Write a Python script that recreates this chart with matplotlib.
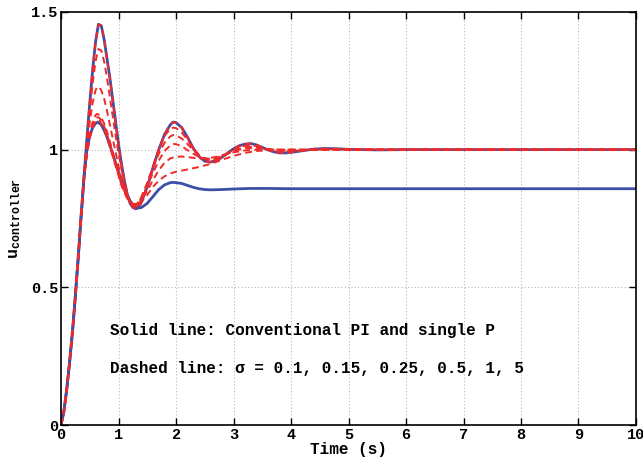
import matplotlib
matplotlib.use('Agg')
import matplotlib.pyplot as plt

plt.rcParams['font.family'] = ['Liberation Mono', 'DejaVu Sans Mono']
plt.rcParams['font.weight'] = 'bold'
plt.rcParams['mathtext.fontset'] = 'custom'
plt.rcParams['mathtext.rm'] = 'Liberation Mono:bold'
plt.rcParams['mathtext.it'] = 'Liberation Mono:bold'

# common rise (all curves)
t_rise = [0, 0.05, 0.1, 0.15, 0.2, 0.25, 0.3, 0.35, 0.4]
u_rise = [0, 0.05, 0.13, 0.23, 0.34, 0.47, 0.61, 0.76, 0.90]

# solid: conventional PI (upper)
t_pi = [0.45, 0.5, 0.55, 0.6, 0.65, 0.7, 0.75, 0.8, 0.85, 0.9, 0.95, 1.0, 1.05, 1.1, 1.15,
        1.2, 1.25, 1.3, 1.35, 1.4, 1.5, 1.6, 1.7, 1.8, 1.9, 1.95, 2.0, 2.1, 2.2, 2.3, 2.4,
        2.5, 2.6, 2.7, 2.8, 2.9, 3.0, 3.1, 3.2, 3.3, 3.4, 3.5, 3.6, 3.7, 3.8, 3.9, 4.0,
        4.2, 4.4, 4.6, 4.8, 5.0, 5.5, 6, 7, 8, 9, 10]
u_pi = [1.04, 1.17, 1.29, 1.39, 1.455, 1.45, 1.40, 1.33, 1.26, 1.18, 1.10, 1.02, 0.95, 0.89, 0.84,
        0.805, 0.79, 0.785, 0.79, 0.81, 0.865, 0.935, 1.0, 1.055, 1.09, 1.10, 1.098, 1.08, 1.045, 1.005, 0.975,
        0.958, 0.955, 0.96, 0.972, 0.988, 1.003, 1.014, 1.02, 1.022, 1.017, 1.008, 0.999, 0.992, 0.988, 0.988, 0.99,
        0.996, 1.002, 1.004, 1.003, 1.001, 0.999, 1.0, 1.0, 1.0, 1.0, 1.0]

# solid: single P (lower)
t_p = [0.45, 0.5, 0.55, 0.6, 0.64, 0.7, 0.75, 0.8, 0.85, 0.9, 0.95, 1.0, 1.05, 1.1, 1.15, 1.2,
       1.25, 1.3, 1.35, 1.4, 1.5, 1.6, 1.7, 1.8, 1.9, 1.95, 2.0, 2.1, 2.2, 2.3, 2.4, 2.5, 2.6,
       2.8, 3.0, 3.3, 3.6, 4, 5, 10]
u_p = [1.0, 1.05, 1.08, 1.095, 1.10, 1.09, 1.07, 1.045, 1.015, 0.985, 0.95, 0.92, 0.89, 0.86, 0.835, 0.815,
       0.80, 0.79, 0.788, 0.79, 0.805, 0.83, 0.855, 0.872, 0.88, 0.881, 0.88, 0.877, 0.87, 0.863, 0.858, 0.855, 0.854,
       0.855, 0.857, 0.859, 0.859, 0.858, 0.858, 0.858]

# dashed: sigma = 0.1, 0.15, 0.25, 0.5, 1, 5
t_s1 = t_pi
u_s1 = u_pi

t_s2 = [0.45, 0.5, 0.55, 0.6, 0.65, 0.7, 0.75, 0.8, 0.85, 0.9, 0.95, 1.0, 1.05, 1.1, 1.15, 1.2,
        1.25, 1.3, 1.35, 1.4, 1.5, 1.6, 1.7, 1.8, 1.9, 1.95, 2.0, 2.1, 2.2, 2.3, 2.4, 2.5, 2.6,
        2.7, 2.8, 2.9, 3.0, 3.1, 3.2, 3.3, 3.4, 3.5, 3.6, 3.7, 3.8, 4.0, 4.4, 4.8, 5.5, 10]
u_s2 = [1.03, 1.14, 1.24, 1.32, 1.365, 1.36, 1.32, 1.26, 1.19, 1.12, 1.05, 0.985, 0.93, 0.88, 0.84, 0.81,
        0.795, 0.792, 0.80, 0.82, 0.875, 0.94, 1.0, 1.05, 1.075, 1.08, 1.078, 1.062, 1.035, 1.005, 0.98, 0.965, 0.96,
        0.963, 0.973, 0.986, 0.998, 1.008, 1.014, 1.016, 1.013, 1.006, 1.0, 0.995, 0.993, 0.994, 1.0, 1.002, 1.0, 1.0]

t_s3 = [0.45, 0.5, 0.55, 0.6, 0.63, 0.67, 0.7, 0.75, 0.8, 0.85, 0.9, 0.95, 1.0, 1.05, 1.1, 1.15,
        1.2, 1.25, 1.3, 1.35, 1.4, 1.5, 1.6, 1.7, 1.8, 1.9, 1.95, 2.0, 2.1, 2.2, 2.3, 2.4, 2.5,
        2.6, 2.7, 2.8, 2.9, 3.0, 3.1, 3.2, 3.3, 3.4, 3.5, 3.7, 3.9, 4.2, 4.6, 5.5, 10]
u_s3 = [1.01, 1.1, 1.17, 1.215, 1.228, 1.225, 1.215, 1.185, 1.14, 1.09, 1.04, 0.99, 0.94, 0.895, 0.86, 0.83,
        0.81, 0.80, 0.80, 0.81, 0.83, 0.88, 0.935, 0.985, 1.025, 1.048, 1.053, 1.052, 1.04, 1.02, 0.998, 0.98, 0.968,
        0.964, 0.966, 0.974, 0.985, 0.996, 1.004, 1.009, 1.01, 1.008, 1.004, 0.997, 0.995, 0.998, 1.001, 1.0, 1.0]

t_s4 = [0.45, 0.5, 0.55, 0.6, 0.63, 0.67, 0.7, 0.75, 0.8, 0.85, 0.9, 0.95, 1.0, 1.05, 1.1, 1.15,
        1.2, 1.25, 1.3, 1.35, 1.4, 1.5, 1.6, 1.7, 1.8, 1.9, 1.95, 2.0, 2.1, 2.2, 2.3, 2.4, 2.5,
        2.6, 2.7, 2.8, 2.9, 3.0, 3.2, 3.4, 3.6, 3.8, 4.2, 4.6, 10]
u_s4 = [0.99, 1.06, 1.1, 1.125, 1.13, 1.125, 1.115, 1.095, 1.065, 1.03, 0.99, 0.955, 0.92, 0.885, 0.855, 0.83,
        0.812, 0.803, 0.802, 0.81, 0.825, 0.87, 0.915, 0.96, 0.995, 1.015, 1.02, 1.02, 1.012, 0.998, 0.985, 0.974, 0.968,
        0.967, 0.97, 0.977, 0.986, 0.995, 1.005, 1.006, 1.002, 0.998, 0.998, 1.0, 1.0]

t_s5 = [0.45, 0.5, 0.55, 0.6, 0.63, 0.67, 0.7, 0.75, 0.8, 0.85, 0.9, 0.95, 1.0, 1.05, 1.1, 1.15,
        1.2, 1.25, 1.3, 1.35, 1.4, 1.5, 1.6, 1.7, 1.8, 1.9, 2.0, 2.1, 2.2, 2.3, 2.4, 2.5, 2.6,
        2.7, 2.8, 3.0, 3.2, 3.4, 3.6, 4.0, 10]
u_s5 = [0.985, 1.05, 1.09, 1.113, 1.118, 1.115, 1.105, 1.085, 1.055, 1.02, 0.98, 0.945, 0.91, 0.875, 0.85, 0.827,
        0.81, 0.80, 0.80, 0.806, 0.818, 0.85, 0.89, 0.925, 0.952, 0.968, 0.974, 0.975, 0.973, 0.97, 0.968, 0.968, 0.97,
        0.974, 0.98, 0.99, 0.997, 1.0, 1.001, 1.0, 1.0]

t_s6 = [0.45, 0.5, 0.55, 0.6, 0.63, 0.67, 0.7, 0.75, 0.8, 0.85, 0.9, 0.95, 1.0, 1.05, 1.1, 1.15,
        1.2, 1.25, 1.3, 1.35, 1.4, 1.5, 1.6, 1.7, 1.8, 1.9, 2.0, 2.2, 2.4, 2.6, 2.8, 3.0, 3.2,
        3.4, 3.6, 4.0, 10]
u_s6 = [0.98, 1.04, 1.08, 1.103, 1.108, 1.105, 1.095, 1.075, 1.045, 1.01, 0.975, 0.94, 0.905, 0.87, 0.845, 0.823,
        0.806, 0.797, 0.795, 0.80, 0.81, 0.835, 0.865, 0.887, 0.903, 0.913, 0.92, 0.928, 0.937, 0.948, 0.963, 0.977, 0.988,
        0.995, 0.998, 1.0, 1.0]

blue = '#3c4fa8'
red = '#ee2a2a'

fig = plt.figure(figsize=(6.43, 4.58), dpi=100)
ax = fig.add_axes([0.0949, 0.072, 0.8942, 0.902])

ax.plot(t_rise + t_pi, u_rise + u_pi, color=blue, lw=2.0)
ax.plot(t_rise + t_p, u_rise + u_p, color=blue, lw=2.0)
for tt, uu in [(t_s1, u_s1), (t_s2, u_s2), (t_s3, u_s3), (t_s4, u_s4), (t_s5, u_s5), (t_s6, u_s6)]:
    ax.plot(t_rise + tt, u_rise + uu, color=red, lw=1.4, ls=(0, (3.5, 2.2)))

ax.set_xlim(0, 10)
ax.set_ylim(0, 1.5)
ax.set_xticks(range(0, 11))
ax.set_yticks([0, 0.5, 1, 1.5])
ax.set_yticklabels(['0', '0.5', '1', '1.5'])
ax.grid(True, color='#b8b8b8', ls=(0, (1, 2)), lw=0.8)
ax.tick_params(direction='in', top=True, right=True, labelsize=11, pad=2, length=5, width=1)
for lab in ax.get_xticklabels() + ax.get_yticklabels():
    lab.set_fontweight('bold')
for s in ax.spines.values():
    s.set_linewidth(1.2)

ax.set_xlabel('Time (s)', fontsize=11.5, fontweight='bold', labelpad=0)
ax.set_ylabel(r'$\mathrm{u}_{\mathrm{controller}}$', fontsize=12, labelpad=6)

ax.text(0.85, 0.345, 'Solid line: Conventional PI and single P', fontsize=11.5, fontweight='bold', va='center')
ax.text(0.85, 0.207, 'Dashed line: \u03c3 = 0.1, 0.15, 0.25, 0.5, 1, 5', fontsize=11.5, fontweight='bold', va='center')

fig.savefig('out.png', dpi=100)
